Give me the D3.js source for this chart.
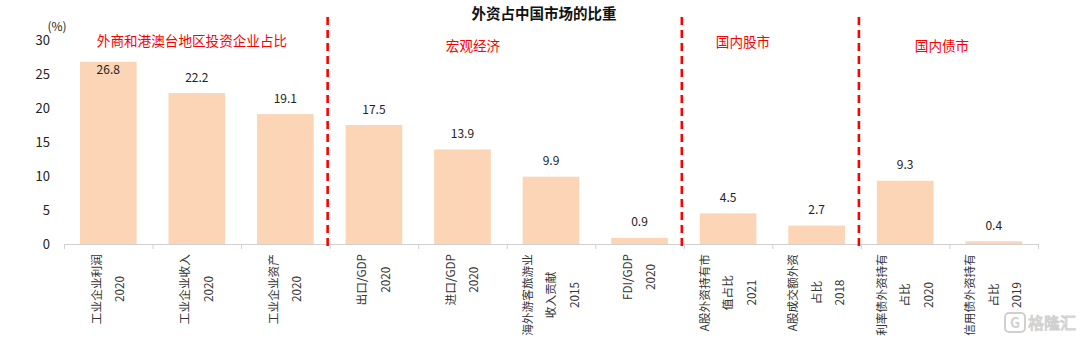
<!DOCTYPE html>
<html>
<head>
<meta charset="utf-8">
<script src="https://cdn.jsdelivr.net/npm/d3@7"></script>
<style>
  html, body { margin: 0; padding: 0; background: #fff; }
  svg { display: block; font-family: "Noto Sans CJK SC", "Noto Sans", sans-serif; }
</style>
</head>
<body>
<svg id="chart" width="1080" height="339"></svg>
<script>
// ---- data ----
const categories = [
  "工业企业利润\n2020",
  "工业企业收入\n2020",
  "工业企业资产\n2020",
  "出口/GDP\n2020",
  "进口/GDP\n2020",
  "海外游客旅游业\n收入贡献\n2015",
  "FDI/GDP\n2020",
  "A股外资持有市\n值占比\n2021",
  "A股成交额外资\n占比\n2018",
  "利率债外资持有\n占比\n2020",
  "信用债外资持有\n占比\n2019"
];
const values = [26.8, 22.2, 19.1, 17.5, 13.9, 9.9, 0.9, 4.5, 2.7, 9.3, 0.4];
const valueLabels = ["26.8", "22.2", "19.1", "17.5", "13.9", "9.9", "0.9", "4.5", "2.7", "9.3", "0.4"];
const yTicks = [0, 5, 10, 15, 20, 25, 30];
const sectionNames = ["外商和港澳台地区投资企业占比", "宏观经济", "国内股市", "国内债市"];
const sectionStarts = [0, 3, 7, 9];   // first category index of each section
const title = "外资占中国市场的比重";
const unitLabel = "(%)";

// ---- layout ----
const svg = d3.select("#chart");
const W = 1080, H = 339;
const x = d3.scaleBand().domain(d3.range(categories.length))
  .range([64, 1038]).paddingInner(0.36).paddingOuter(0.18);
const y = d3.scaleLinear().domain([0, 30]).range([244, 40]);
const boundary = i => i < categories.length
  ? x(i) - x.step() * x.paddingInner() / 2
  : x(categories.length - 1) + x.bandwidth() + x.step() * x.paddingInner() / 2;

// title
svg.append("text").attr("x", 544).attr("y", 19).attr("text-anchor", "middle")
  .attr("font-size", 14.5).attr("font-weight", "bold").attr("fill", "#111").text(title);

// y tick labels
svg.append("g").selectAll("text").data(yTicks).join("text")
  .attr("x", 50).attr("y", d => y(d)).attr("dy", "0.36em")
  .attr("text-anchor", "end").attr("font-size", 13).attr("fill", "#222")
  .text(d => d);
svg.append("text").attr("x", 57).attr("y", 31).attr("text-anchor", "middle")
  .attr("font-size", 12).attr("fill", "#222").text(unitLabel);

// bars
svg.append("g").selectAll("rect").data(values).join("rect")
  .attr("x", (d, i) => x(i)).attr("width", x.bandwidth())
  .attr("y", d => y(d)).attr("height", d => y(0) - y(d))
  .attr("fill", "#FBD5B5");

// value labels
svg.append("g").selectAll("text").data(values).join("text")
  .attr("x", (d, i) => x(i) + x.bandwidth() / 2)
  .attr("y", d => (y(d) - 12 < y(26)) ? y(d) + 12.5 : y(d) - 11.5)
  .attr("text-anchor", "middle").attr("font-size", 12).attr("fill", "#222")
  .text((d, i) => valueLabels[i]);

// x axis line and ticks
svg.append("line").attr("x1", boundary(0)).attr("x2", boundary(categories.length))
  .attr("y1", y(0) + 0.5).attr("y2", y(0) + 0.5).attr("stroke", "#d0d0d0").attr("stroke-width", 1);
svg.append("g").selectAll("line").data(d3.range(categories.length + 1)).join("line")
  .attr("x1", d => boundary(d) + 0.5).attr("x2", d => boundary(d) + 0.5)
  .attr("y1", y(0)).attr("y2", y(0) + 5).attr("stroke", "#d0d0d0");

// category labels (rotated, multi-line)
const lineGap = 23.5, labelTop = 254;
categories.forEach((c, i) => {
  const lines = c.split("\n");
  const cx = x(i) + x.bandwidth() / 2;
  const g = svg.append("g");
  const texts = lines.map((ln, k) => g.append("text")
    .attr("text-anchor", "middle").attr("font-size", 11.7).attr("fill", "#333")
    .attr("dy", "0.35em").text(ln));
  const maxLen = d3.max(texts, t => t.node().getComputedTextLength());
  const cy = labelTop + maxLen / 2;
  texts.forEach((t, k) => {
    const lx = cx + (k - (lines.length - 1) / 2) * lineGap;
    t.attr("transform", `translate(${lx},${cy}) rotate(-90)`);
  });
});

// section dividers
svg.append("g").selectAll("line").data(sectionStarts.slice(1)).join("line")
  .attr("x1", d => boundary(d) - 2).attr("x2", d => boundary(d) - 2)
  .attr("y1", 17).attr("y2", 249)
  .attr("stroke", "#FF0000").attr("stroke-width", 2.6).attr("stroke-dasharray", "8,5");

// section labels
const sectionX = [192, 473, 743, 942];
const sectionY = [46, 51, 47, 51];
svg.append("g").selectAll("text").data(sectionNames).join("text")
  .attr("x", (d, i) => sectionX[i]).attr("y", (d, i) => sectionY[i])
  .attr("text-anchor", "middle").attr("font-size", 13.6).attr("fill", "#FF0000")
  .text(d => d);

// watermark
const wm = svg.append("g").attr("opacity", 0.55);
wm.append("rect").attr("x", 1005).attr("y", 313).attr("width", 20).attr("height", 19)
  .attr("rx", 4).attr("fill", "none").attr("stroke", "#aaa").attr("stroke-width", 2);
wm.append("text").attr("x", 1015).attr("y", 328).attr("text-anchor", "middle")
  .attr("font-size", 14).attr("font-weight", "bold").attr("fill", "#aaa").text("G");
wm.append("text").attr("x", 1028).attr("y", 329).attr("font-size", 16)
  .attr("fill", "#fff").attr("stroke", "#aaa").attr("stroke-width", 1).text("格隆汇");
</script>
</body>
</html>
